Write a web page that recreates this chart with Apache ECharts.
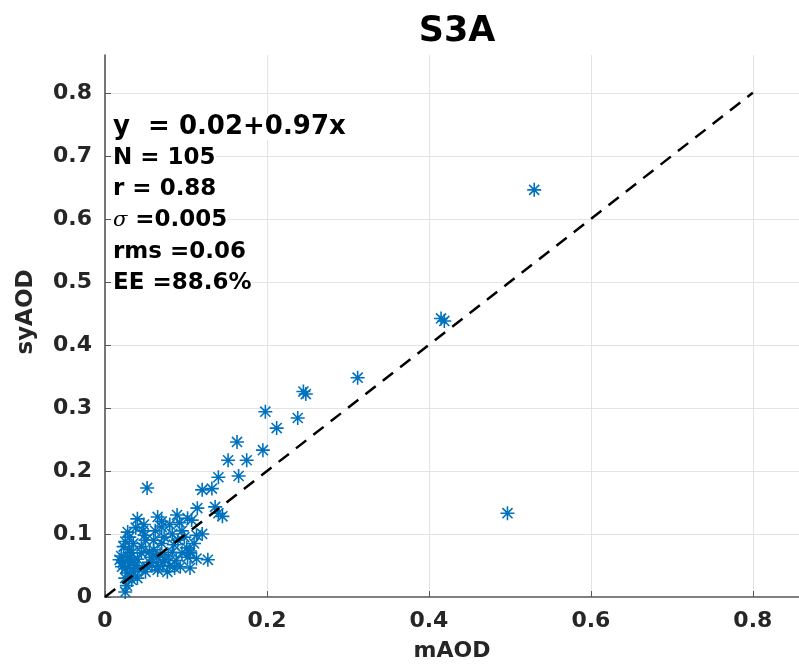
<!DOCTYPE html>
<html><head><meta charset="utf-8">
<script src="https://cdn.jsdelivr.net/npm/echarts@6/dist/echarts.min.js"></script>
<style>html,body{margin:0;padding:0;background:#fff}#c{width:799px;height:671px}</style>
</head><body><div id="c"></div>
<script>
// mAOD values (x)
const mAOD = [0.530,0.415,0.419,0.497,0.312,0.245,0.248,0.198,0.238,0.212,
0.163,0.195,0.152,0.175,0.140,0.165,0.120,0.132,0.052,0.114,
0.136,0.145,0.140,0.107,0.089,0.065,0.040,0.102,0.092,0.070,
0.083,0.113,0.028,0.049,0.025,0.101,0.105,0.127,0.028,0.055,
0.064,0.074,0.021,0.037,0.052,0.065,0.086,0.105,0.033,0.028,
0.025,0.027,0.018,0.031,0.055,0.071,0.083,0.105,0.113,0.093,
0.077,0.066,0.025,0.035,0.102,0.047,0.070,0.080,0.060,0.045,
0.035,0.030,0.060,0.090,0.095,0.022,0.040,0.045,0.050,0.030,
0.020,0.038,0.073,0.085,0.098,0.057,0.040,0.030,0.050,0.078,
0.110,0.120,0.088,0.062,0.025,0.033,0.042,0.070,0.048,0.058,
0.080,0.023,0.095,0.031,0.068];
// syAOD values (y)
const syAOD = [0.646,0.442,0.438,0.133,0.348,0.326,0.322,0.294,0.284,0.268,
0.246,0.233,0.217,0.217,0.190,0.192,0.170,0.172,0.173,0.141,
0.143,0.128,0.133,0.122,0.130,0.127,0.124,0.125,0.118,0.111,
0.100,0.098,0.103,0.098,0.088,0.078,0.070,0.059,0.063,0.072,
0.063,0.059,0.048,0.050,0.048,0.043,0.046,0.046,0.027,0.038,
0.008,0.018,0.059,0.063,0.055,0.055,0.071,0.073,0.061,0.048,
0.040,0.048,0.045,0.040,0.063,0.105,0.120,0.115,0.090,0.080,
0.085,0.075,0.075,0.090,0.105,0.055,0.060,0.070,0.090,0.095,
0.065,0.110,0.095,0.083,0.095,0.063,0.030,0.050,0.040,0.065,
0.085,0.100,0.058,0.105,0.030,0.070,0.045,0.085,0.115,0.050,
0.050,0.080,0.070,0.055,0.068];
const oneToOne = [[0,0],[0.8,0.8]];
const tickLabels = ['0','0.1','0.2','0.3','0.4','0.5','0.6','0.7','0.8'];
const statLines = ['N = 105','r = 0.88','σ =0.005','rms =0.06','EE =88.6%'];
const fitText = 'y  = 0.02+0.97x';

const pts = mAOD.map((x,i)=>[x, syAOD[i]]);
const FONT = 'DejaVu Sans';
const star = 'path://M0,-1L0,1M-1,0L1,0M-0.72,-0.72L0.72,0.72M-0.72,0.72L0.72,-0.72';
function fmt(v){ const s = Math.round(v*10)/10; if (Math.abs(v - s) > 1e-6) return ''; const t = tickLabels.indexOf(String(s)); return t>=0 ? tickLabels[t] : ''; }

const axisCommon = {
  type:'value', min:0,
  axisLine:{show:true,onZero:false,lineStyle:{color:'#555',width:1.6}},
  axisTick:{show:true,inside:true,length:6,lineStyle:{color:'#555',width:1}},
  axisLabel:{fontFamily:FONT,fontWeight:'bold',fontSize:22,color:'#262626',formatter:fmt,showMaxLabel:false,margin:13},
  splitLine:{show:true,showMaxLine:false,showMinLine:false,lineStyle:{color:'#e3e3e3',width:1}}
};

const statGraphics = statLines.map((t,i)=>{
  const y = 158 + i*31.2;
  if (t.startsWith('σ')) {
    return {type:'text',x:113,y:y,z:10,style:{text:'{s|σ}{b|'+t.slice(1)+'}',verticalAlign:'middle',backgroundColor:'#fff',rich:{
      s:{fontFamily:'DejaVu Serif',fontStyle:'italic',fontSize:21,fill:'#000'},
      b:{fontFamily:FONT,fontWeight:'bold',fontSize:23,fill:'#000'}}}};
  }
  return {type:'text',x:113,y:y,z:10,style:{text:t,verticalAlign:'middle',backgroundColor:'#fff',fontFamily:FONT,fontWeight:'bold',fontSize:23,fill:'#000'}};
});

const chart = echarts.init(document.getElementById('c'));
chart.setOption({
  animation:false,
  backgroundColor:'#fff',
  title:{text:'S3A',left:452,top:9,textAlign:'center',textStyle:{fontFamily:FONT,fontWeight:'bold',fontSize:35,color:'#000'}},
  grid:{left:105,right:0,top:55,bottom:74,containLabel:false},
  xAxis:Object.assign({},axisCommon,{max:0.857,interval:0.2,name:'mAOD',nameLocation:'middle',nameGap:43,
     nameTextStyle:{fontFamily:FONT,fontWeight:'bold',fontSize:22,color:'#262626'}}),
  yAxis:Object.assign({},axisCommon,{max:0.86,interval:0.1}),
  graphic:[
    {type:'text',x:26,y:312,rotation:Math.PI/2,z:10,style:{text:'syAOD',align:'center',verticalAlign:'middle',fontFamily:FONT,fontWeight:'bold',fontSize:23,fill:'#262626'}},
    {type:'text',x:113,y:127,z:10,style:{text:fitText,verticalAlign:'middle',backgroundColor:'#fff',fontFamily:FONT,fontWeight:'bold',fontSize:26,fill:'#000'}}
  ].concat(statGraphics),
  series:[
    {type:'line',data:oneToOne,symbol:'none',z:3,lineStyle:{color:'#000',width:2.5,type:[13,9]}},
    {type:'scatter',data:pts,symbol:star,symbolSize:14,z:2,
     itemStyle:{color:'rgba(0,0,0,0)',borderColor:'#0072BD',borderWidth:1.6,opacity:1}}
  ]
});
</script></body></html>
